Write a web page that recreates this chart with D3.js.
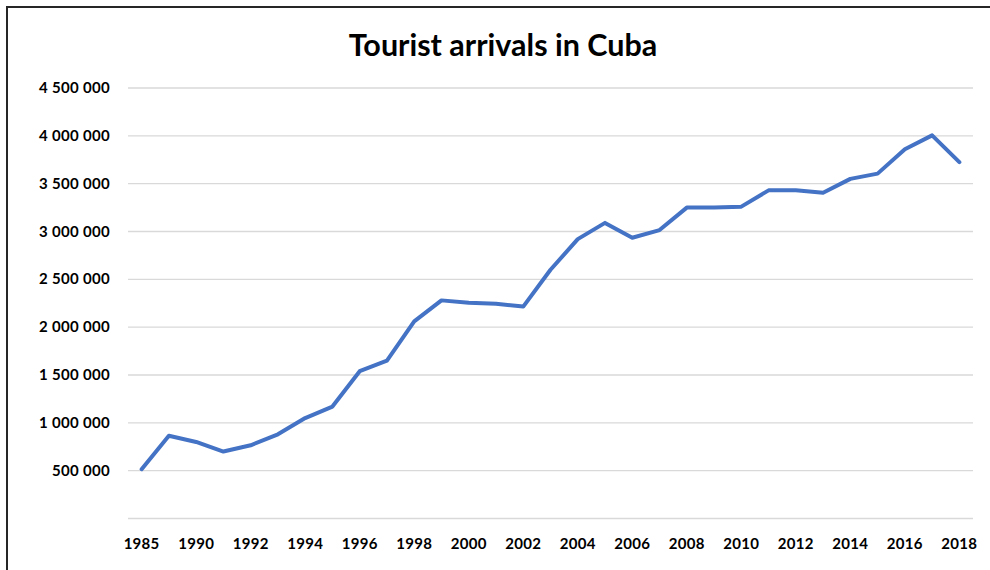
<!DOCTYPE html>
<html>
<head>
<meta charset="utf-8">
<script src="https://cdn.jsdelivr.net/npm/d3@7"></script>
<style>
  html, body { margin: 0; padding: 0; background: #fff; }
  svg { display: block; }
  text { font-family: Lato, "Open Sans", sans-serif; font-weight: bold; fill: #000; }
</style>
</head>
<body>
<svg id="chart" width="990" height="570"></svg>
<script>
const title = "Tourist arrivals in Cuba";
const years = ["1985","1989","1990","1991","1992","1993","1994","1995","1996","1997","1998","1999","2000","2001","2002","2003","2004","2005","2006","2007","2008","2009","2010","2011","2012","2013","2014","2015","2016","2017","2018"];
const arrivals = [515000,865000,800000,700000,765000,880000,1050000,1170000,1540000,1650000,2060000,2280000,2255000,2245000,2215000,2600000,2920000,3090000,2935000,3015000,3250000,3250000,3260000,3430000,3430000,3405000,3550000,3605000,3860000,4005000,3725000];
const yTicks = [0,500000,1000000,1500000,2000000,2500000,3000000,3500000,4000000,4500000];
const xTickLabels = ["1985","1990","1992","1994","1996","1998","2000","2002","2004","2006","2008","2010","2012","2014","2016","2018"];

const svg = d3.select("#chart");
const mLeft = 128, mRight = 973, mTop = 88, mBottom = 518.5;

// frame
svg.append("path")
  .attr("d", `M7,572 L7,7 L992,7`)
  .attr("fill", "none").attr("stroke", "#262626").attr("stroke-width", 2);

svg.append("text")
  .attr("x", 503).attr("y", 56)
  .attr("text-anchor", "middle")
  .attr("font-size", 30.5)
  .text(title);

const x = d3.scaleBand().domain(years).range([mLeft, mRight]);
const y = d3.scaleLinear().domain([0, 4500000]).range([mBottom, mTop]);

const fmt = v => d3.format(",")(v).replace(/,/g, " ");

// gridlines
svg.append("g").selectAll("line").data(yTicks).join("line")
  .attr("x1", mLeft).attr("x2", mRight)
  .attr("y1", d => y(d)).attr("y2", d => y(d))
  .attr("stroke", "#d9d9d9").attr("stroke-width", 1.3);

// y labels
svg.append("g").selectAll("text").data(yTicks.filter(d => d > 0)).join("text")
  .attr("x", 110).attr("y", d => y(d) + 5)
  .attr("text-anchor", "end")
  .attr("font-size", 15)
  .attr("letter-spacing", 0.3)
  .text(d => fmt(d));

// x labels
svg.append("g").selectAll("text").data(xTickLabels).join("text")
  .attr("x", d => x(d) + x.bandwidth() / 2).attr("y", 549)
  .attr("text-anchor", "middle")
  .attr("font-size", 15)
  .attr("letter-spacing", 0.3)
  .text(d => d);

// line
const line = d3.line()
  .x((d, i) => x(years[i]) + x.bandwidth() / 2)
  .y(d => y(d));
svg.append("path")
  .datum(arrivals)
  .attr("d", line)
  .attr("fill", "none")
  .attr("stroke", "#4472C4")
  .attr("stroke-width", 4)
  .attr("stroke-linejoin", "round")
  .attr("stroke-linecap", "round");
</script>
</body>
</html>
